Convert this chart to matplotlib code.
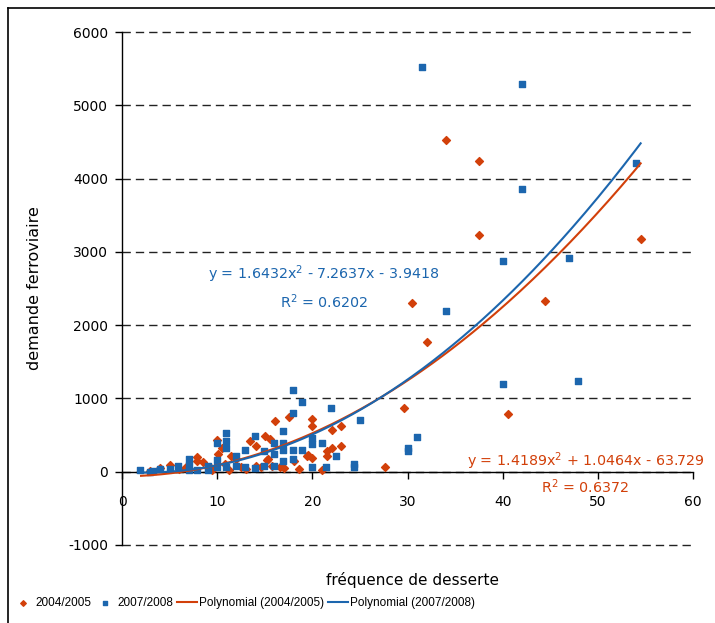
import numpy as np
import matplotlib
matplotlib.use("Agg")
import matplotlib.pyplot as plt
from matplotlib.lines import Line2D
from matplotlib import font_manager

plt.rcParams["axes.unicode_minus"] = False

RED = "#D2400A"
BLUE = "#1C66AE"

# 2004/2005 (diamonds)
x_0405 = [2.9, 4.0, 5.05, 6.0, 6.7, 7.9, 7.9, 8.5, 9.2, 10.0, 10.1, 10.5, 10.8, 11.5, 12.0,
          12.5, 13.5, 14.1, 14.1, 15.05, 15.5, 15.3, 15.2, 15.8, 16.1, 16.6, 17.0, 17.5,
          18.1, 18.6, 19.4, 19.5, 20.0, 20.0, 20.0, 21.0, 21.5, 21.5, 22.1, 22.1, 23.05,
          23.05, 13.0, 14.6, 11.2, 9.5, 27.6, 29.6, 30.5, 32.0, 34.0, 37.5, 37.5, 40.6,
          44.5, 54.5]
y_0405 = [14, 45, 95, 40, 60, 200, 150, 127, 60, 437, 245, 323, 100, 209, 170,
          60, 414, 355, 80, 482, 446, 170, 160, 80, 686, 60, 50, 746,
          140, 37, 218, 226, 719, 627, 188, 27, 277, 218, 573, 325, 618,
          355, 40, 60, 30, 20, 70, 875, 2300, 1770, 4530, 4240, 3230, 790,
          2330, 3180]

# 2007/2008 (squares)
x_0708 = [1.9, 2.9, 3.3, 4.0, 5.0, 5.9, 7.0, 7.0, 7.0, 7.9, 9.0, 9.0, 10.0, 10.0, 10.0,
          10.95, 10.95, 10.95, 10.95, 12.0, 12.0, 12.95, 12.95, 14.0, 14.0, 14.95, 14.95,
          16.0, 16.0, 16.0, 16.9, 16.9, 16.9, 16.9, 18.0, 18.0, 18.0, 18.0, 18.9, 18.9,
          20.0, 20.0, 20.0, 21.0, 21.4, 22.0, 22.5, 24.4, 24.4, 25.0, 30.0, 30.0, 31.0,
          31.5, 34.0, 40.0, 40.0, 42.0, 42.0, 47.0, 47.9, 54.0]
y_0708 = [18, 0, 4, 37, 37, 73, 173, 95, 27, 27, 73, 18, 391, 164, 64,
          528, 414, 323, 64, 209, 82, 300, 64, 491, 50, 277, 82,
          391, 245, 82, 550, 391, 300, 141, 1119, 800, 300, 173, 951, 300,
          460, 382, 64, 391, 64, 869, 209, 100, 60, 700, 330, 280, 480,
          5525, 2195, 2880, 1200, 5290, 3860, 2920, 1240, 4215]

# trend line coefficients shown on the chart
poly_0405 = [1.4189, 1.0464, -63.729]
poly_0708 = [1.6432, -7.2637, -3.9418]
fit_range = (2.0, 54.5)

fig = plt.figure(figsize=(7.15, 6.23), dpi=100)
ax = fig.add_axes([122 / 715, 78 / 623, 571 / 715, 513 / 623])

ax.set_xlim(0, 60)
ax.set_ylim(-1000, 6000)
ax.set_yticks(range(-1000, 6001, 1000))
ax.set_xticks(range(0, 61, 10))

ax.yaxis.grid(True, color="#222222", linewidth=1.0, linestyle=(0, (6, 3.6)))
for gl in ax.get_ygridlines():
    gl.set_clip_on(False)
ax.set_axisbelow(True)

for s in ["top", "right"]:
    ax.spines[s].set_visible(False)
ax.spines["bottom"].set_position(("data", 0))
ax.spines["left"].set_linewidth(1.0)
ax.spines["bottom"].set_linewidth(1.0)
ax.tick_params(axis="y", direction="out", length=5, width=1, pad=5, labelsize=10)
ax.tick_params(axis="x", direction="out", length=5, width=1, pad=12, labelsize=10)

ax.scatter(x_0405, y_0405, marker="D", s=16, color=RED, zorder=3, label="2004/2005")
ax.scatter(x_0708, y_0708, marker="s", s=24, color=BLUE, zorder=3, label="2007/2008")

xf = np.linspace(fit_range[0], fit_range[1], 200)
ax.plot(xf, np.polyval(poly_0405, xf), color=RED, lw=1.5, zorder=4,
        label="Polynomial (2004/2005)")
ax.plot(xf, np.polyval(poly_0708, xf), color=BLUE, lw=1.5, zorder=4,
        label="Polynomial (2007/2008)")

ax.text(21.2, 2690, r"y = 1.6432x$^2$ - 7.2637x - 3.9418", color=BLUE,
        fontsize=10.3, ha="center", va="center")
ax.text(21.2, 2320, r"R$^2$ = 0.6202", color=BLUE, fontsize=10.3, ha="center", va="center")
ax.text(48.7, 150, r"y = 1.4189x$^2$ + 1.0464x - 63.729", color=RED,
        fontsize=10.3, ha="center", va="center")
ax.text(48.7, -205, r"R$^2$ = 0.6372", color=RED, fontsize=10.3, ha="center", va="center")

ax.yaxis.set_label_coords(-0.140, 0.5)
ax.set_ylabel("demande ferroviaire", fontsize=11.5)
fig.text(412 / 715, 1 - 580 / 623, "fréquence de desserte", fontsize=11,
         ha="center", va="center")

narrow = font_manager.FontProperties(family="Liberation Sans", size=8.5)
leg = fig.legend(loc="center left", bbox_to_anchor=(0.018, 1 - 603 / 623), ncol=4,
                 frameon=False, prop=narrow, handlelength=1.7, handletextpad=0.2,
                 columnspacing=0.3, borderaxespad=0, borderpad=0, markerscale=0.7)

# outer chart border (left and top edges visible)
fig.add_artist(Line2D([7.5 / 715, 7.5 / 715], [0, 1 - 7.5 / 623], color="black",
                      lw=1.2, transform=fig.transFigure))
fig.add_artist(Line2D([7.5 / 715, 1], [1 - 7.5 / 623, 1 - 7.5 / 623], color="black",
                      lw=1.2, transform=fig.transFigure))

fig.savefig("out.png", dpi=100)
